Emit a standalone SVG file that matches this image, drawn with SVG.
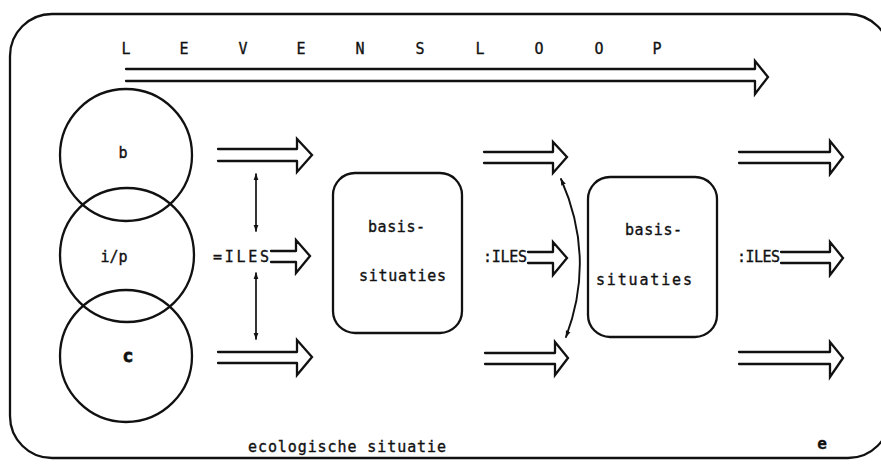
<svg xmlns="http://www.w3.org/2000/svg" width="881" height="469" viewBox="0 0 881 469">
<style>
.ln{fill:none;stroke:#111;stroke-width:2.3;stroke-linejoin:miter;stroke-linecap:round}
.tx{font-family:"DejaVu Sans Mono","Liberation Mono",monospace;font-size:15px;fill:#111;stroke:#111;stroke-width:0.35}
.big{font-family:"DejaVu Sans Mono","Liberation Mono",monospace;font-size:15px;fill:#111;stroke:#111;stroke-width:0.3}
</style>
<defs>
<marker id="ah" viewBox="0 0 10 10" refX="9" refY="5" markerWidth="7" markerHeight="8" orient="auto-start-reverse" markerUnits="userSpaceOnUse">
<path d="M0,1.5 L10,5 L0,8.5 Z" fill="#111"/>
</marker>
</defs>
<rect id="frame" x="10" y="14" width="880" height="444" rx="42" ry="42" class="ln"/>
<g id="levensloop">
<text class="big" x="126" y="54" text-anchor="middle">L</text>
<text class="big" x="184" y="54" text-anchor="middle">E</text>
<text class="big" x="243" y="54" text-anchor="middle">V</text>
<text class="big" x="301" y="54" text-anchor="middle">E</text>
<text class="big" x="360" y="54" text-anchor="middle">N</text>
<text class="big" x="420" y="54" text-anchor="middle">S</text>
<text class="big" x="480" y="54" text-anchor="middle">L</text>
<text class="big" x="539" y="54" text-anchor="middle">O</text>
<text class="big" x="599" y="54" text-anchor="middle">O</text>
<text class="big" x="657" y="54" text-anchor="middle">P</text>
</g>
<g id="circle-b"><circle cx="126" cy="155" r="66" class="ln"/><text class="tx" x="123" y="158" text-anchor="middle">b</text></g>
<g id="circle-ip"><circle cx="127" cy="255" r="67" class="ln"/><text class="tx" x="114" y="262" text-anchor="middle">i/p</text></g>
<g id="circle-c"><circle cx="126" cy="356" r="66" class="ln"/><text class="tx" x="128" y="362" text-anchor="middle" style="font-weight:bold;font-size:18px;stroke-width:0.8">c</text></g>
<g id="box1"><rect x="333" y="173" width="129" height="160" rx="22" class="ln"/>
<text class="tx" x="368" y="232" textLength="57" lengthAdjust="spacing">basis-</text>
<text class="tx" x="359" y="281" textLength="87" lengthAdjust="spacing">situaties</text></g>
<g id="box2"><rect x="588" y="177" width="129" height="160" rx="22" class="ln"/>
<text class="tx" x="625" y="235" textLength="57" lengthAdjust="spacing">basis-</text>
<text class="tx" x="596" y="285" textLength="96" lengthAdjust="spacing">situaties</text></g>
<g id="labels">
<text class="tx" x="213" y="262" textLength="56" lengthAdjust="spacing">=ILES</text>
<text class="tx" x="483" y="262" textLength="44" lengthAdjust="spacing">:ILES</text>
<text class="tx" x="737" y="262" textLength="43" lengthAdjust="spacing">:ILES</text>
<text class="tx" x="248" y="452" textLength="198" lengthAdjust="spacing">ecologische situatie</text>
<text class="tx" x="822" y="449" text-anchor="middle" style="font-weight:bold;font-size:16px">e</text>
</g>
<g id="connectors">
<path class="ln" d="M126 69 H755 M126 81 H755 M755 69 V61 L768 77 L755 94 V81"/>
<path class="ln" d="M218 149 H297 M218 161 H297 M297 149 V139 L312 155 L297 172 V161"/>
<path class="ln" d="M271 251 H296 M271 262 H296 M296 251 V240 L310 256 L296 273 V262"/>
<path class="ln" d="M218 352 H297 M218 363 H297 M297 352 V340 L312 357 L297 375 V363"/>
<path class="ln" d="M484 152 H553 M484 163 H553 M553 152 V142 L567 157 L553 173 V163"/>
<path class="ln" d="M528 252 H553 M528 263 H553 M553 252 V242 L567 258 L553 275 V263"/>
<path class="ln" d="M485 353 H555 M485 364 H555 M555 353 V342 L568 358 L555 375 V364"/>
<path class="ln" d="M739 152 H830 M739 163 H830 M830 152 V141 L843 157 L830 174 V163"/>
<path class="ln" d="M781 252 H830 M781 263 H830 M830 252 V242 L843 258 L830 275 V263"/>
<path class="ln" d="M739 352 H830 M739 364 H830 M830 352 V342 L843 358 L830 377 V364"/>
<line class="ln" x1="256" y1="174" x2="256" y2="231" style="stroke-width:1.7" marker-start="url(#ah)" marker-end="url(#ah)"/>
<line class="ln" x1="256" y1="273" x2="256" y2="339" style="stroke-width:1.7" marker-start="url(#ah)" marker-end="url(#ah)"/>
<path class="ln" d="M561 179 Q596 258 566 337" style="stroke-width:1.9" marker-start="url(#ah)" marker-end="url(#ah)"/>
</g>
</svg>
